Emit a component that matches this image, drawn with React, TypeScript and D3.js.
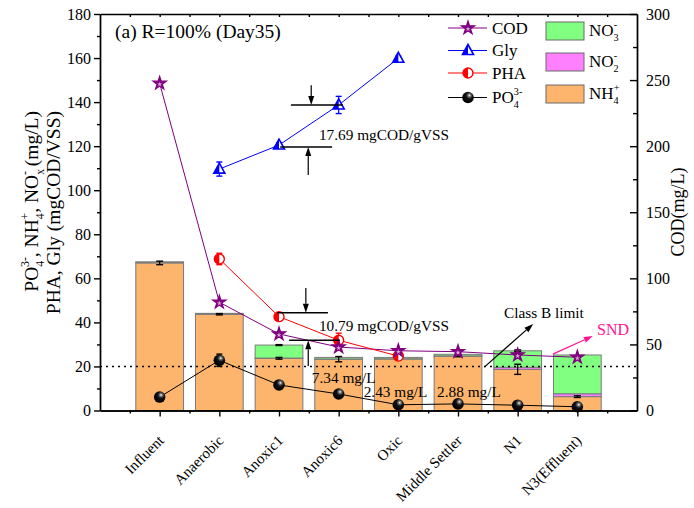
import React, {useEffect, useRef} from "react";
import * as d3 from "d3";

// stages along the plant
const categories = ["Influent", "Anaerobic", "Anoxic1", "Anoxic6", "Oxic", "Middle Settler", "N1", "N3(Effluent)"];

// stacked nitrogen bars (mg/L)
const nh4 = [67.0, 43.7, 23.7, 23.3, 23.4, 24.7, 18.7, 6.3];
const no2 = [0.2, 0.1, 0.1, 0.1, 0.1, 0.1, 0.9, 1.3];
const no3 = [0.3, 0.3, 5.9, 0.7, 0.6, 0.7, 7.5, 17.6];
const nh4Err = [0.8, 0.3, 0.4, 1.2, 0.3, 0.3, 2.3, 0.4];
const totalErr = [0, 0, 0.2, 0, 0, 0, 0.4, 0];

// PO4 (mg/L) and COD (mg/L, right axis)
const po4 = [6.1, 22.8, 11.6, 7.5, 2.6, 3.0, 2.4, 1.7];
const po4Err = [0.3, 2.8, 0.4, 0.4, 0.3, 0.3, 0.3, 0.3];
const cod = [247.5, 81.9, 57.9, 48.0, 45.2, 44.5, 42.0, 40.3];

// Gly and PHA (mgCOD/VSS) only for the reactor stages
const glyStages = [1, 2, 3, 4];
const gly = [109.6, 120.5, 138.7, 159.9];
const glyErr = [3.2, 1.0, 3.9, 1.0];
const pha = [68.8, 42.6, 31.9, 24.7];
const phaErr = [2.6, 0.8, 3.2, 1.0];

const leftTicks = d3.range(0, 181, 20);
const leftMinor = d3.range(10, 180, 20);
const rightTicks = d3.range(0, 301, 50);
const rightMinor = d3.range(25, 300, 50);
const classBLimit = 20;

const FONT = "'Liberation Serif', 'Times New Roman', serif";

type Part = {t: string, k?: "sub" | "sup", back?: number};

function rich(sel: any, parts: Part[], fs: number) {
  let off = 0;
  parts.forEach((p) => {
    let target = p.k === "sub" ? fs * 0.3 : p.k === "sup" ? -fs * 0.45 : 0;
    let ts = sel.append("tspan").attr("dy", target - off).text(p.t);
    if (p.k) ts.attr("font-size", fs * 0.6);
    if (p.back) ts.attr("dx", -p.back);
    off = target;
  });
}

function arrow(g: any, x1: number, y1: number, x2: number, y2: number, color: string, len = 9, wid = 3) {
  let ang = Math.atan2(y2 - y1, x2 - x1);
  let bx = x2 - len * Math.cos(ang), by = y2 - len * Math.sin(ang);
  g.append("line")
    .attr("x1", x1).attr("y1", y1).attr("x2", bx).attr("y2", by)
    .attr("stroke", color).attr("stroke-width", 1.2);
  let px = -Math.sin(ang) * wid, py = Math.cos(ang) * wid;
  g.append("path")
    .attr("d", `M${x2},${y2}L${bx + px},${by + py}L${bx - px},${by - py}Z`)
    .attr("fill", color);
}

function Chart() {
  const svgRef = useRef<SVGSVGElement>(null);

  useEffect(() => {
    document.body.style.margin = "0";
    let svg = d3.select(svgRef.current);
    svg.selectAll("*").remove();

    let plot = {left: 100, right: 637, top: 14, bottom: 410.5};
    let x = d3.scaleLinear().domain([0, 9]).range([plot.left, plot.right]);
    let yL = d3.scaleLinear().domain([0, 180]).range([plot.bottom, plot.top]);
    let yR = d3.scaleLinear().domain([0, 300]).range([plot.bottom, plot.top]);
    let bw = x(0.8) - x(0);

    let defs = svg.append("defs");
    let grad = defs.append("radialGradient").attr("id", "ball").attr("cx", "62%").attr("cy", "32%").attr("r", "65%");
    grad.append("stop").attr("offset", "0%").attr("stop-color", "#ffffff");
    grad.append("stop").attr("offset", "18%").attr("stop-color", "#777777");
    grad.append("stop").attr("offset", "45%").attr("stop-color", "#111111");
    grad.append("stop").attr("offset", "100%").attr("stop-color", "#000000");

    // bars
    let bars = svg.append("g");
    categories.forEach((c, i) => {
      let cx = x(i + 1);
      let segs = [
        {v0: 0, v1: nh4[i], fill: "#FDB46C"},
        {v0: nh4[i], v1: nh4[i] + no2[i], fill: "#FF80FF"},
        {v0: nh4[i] + no2[i], v1: nh4[i] + no2[i] + no3[i], fill: "#80FF80"},
      ];
      segs.forEach((s) => {
        bars.append("rect")
          .attr("x", cx - bw / 2).attr("width", bw)
          .attr("y", yL(s.v1)).attr("height", yL(s.v0) - yL(s.v1))
          .attr("fill", s.fill).attr("stroke", "#7a7a7a").attr("stroke-width", 1);
      });
    });

    let errBar = (g: any, cx: number, y0: number, y1: number, color: string, cap = 7) => {
      g.append("line").attr("x1", cx).attr("x2", cx).attr("y1", y0).attr("y2", y1)
        .attr("stroke", color).attr("stroke-width", 1.2);
      [y0, y1].forEach((yy) => g.append("line")
        .attr("x1", cx - cap / 2).attr("x2", cx + cap / 2).attr("y1", yy).attr("y2", yy)
        .attr("stroke", color).attr("stroke-width", 1.4));
    };

    let eg = svg.append("g");
    categories.forEach((c, i) => {
      errBar(eg, x(i + 1), yL(nh4[i] - nh4Err[i]), yL(nh4[i] + nh4Err[i]), "#000");
      if (totalErr[i] > 0) {
        let t = nh4[i] + no2[i] + no3[i];
        errBar(eg, x(i + 1), yL(t - totalErr[i]), yL(t + totalErr[i]), "#000");
      }
    });

    // class B limit
    svg.append("line")
      .attr("x1", plot.left).attr("x2", plot.right)
      .attr("y1", yL(classBLimit)).attr("y2", yL(classBLimit))
      .attr("stroke", "#000").attr("stroke-width", 1.6).attr("stroke-dasharray", "2,4");

    // series lines
    let idx = d3.range(categories.length);
    let lineL = (vals: number[], pos: number[]) =>
      d3.line<number>().x((d, k) => x(pos[k] + 1)).y((d) => yL(d))(vals);

    svg.append("path").attr("d", d3.line<number>().x((d, k) => x(k + 1)).y((d) => yR(d))(cod))
      .attr("fill", "none").attr("stroke", "#800080").attr("stroke-width", 1);
    svg.append("path").attr("d", lineL(gly, glyStages))
      .attr("fill", "none").attr("stroke", "#0000FF").attr("stroke-width", 1);
    svg.append("path").attr("d", lineL(pha, glyStages))
      .attr("fill", "none").attr("stroke", "#FF0000").attr("stroke-width", 1);
    svg.append("path").attr("d", lineL(po4, idx))
      .attr("fill", "none").attr("stroke", "#000").attr("stroke-width", 1);

    // markers
    let star = d3.symbol().type(d3.symbolStar).size(55)();
    let drawStar = (g: any, cx: number, cy: number) => {
      g.append("path").attr("d", star).attr("transform", `translate(${cx},${cy})`)
        .attr("fill", "#800080").attr("stroke", "#800080").attr("stroke-width", 1.2);
      g.append("path").attr("d", d3.symbol().type(d3.symbolStar).size(8)())
        .attr("transform", `translate(${cx},${cy + 1})`).attr("fill", "#d9a8d9");
    };
    let drawTri = (g: any, cx: number, cy: number) => {
      g.append("path").attr("d", "M0,-6L5.5,4L-5.5,4Z").attr("transform", `translate(${cx},${cy})`)
        .attr("fill", "#fff").attr("stroke", "#0000FF").attr("stroke-width", 1.6);
      g.append("path").attr("d", "M0,-6L0,4L-5.5,4Z").attr("transform", `translate(${cx},${cy})`)
        .attr("fill", "#0000FF");
    };
    let drawHalf = (g: any, cx: number, cy: number) => {
      g.append("circle").attr("cx", cx).attr("cy", cy).attr("r", 5)
        .attr("fill", "#fff").attr("stroke", "#FF0000").attr("stroke-width", 1.4);
      g.append("path").attr("d", "M0,-5A5,5 0 0 0 0,5Z").attr("transform", `translate(${cx},${cy})`)
        .attr("fill", "#FF0000");
    };
    let drawBall = (g: any, cx: number, cy: number) => {
      g.append("circle").attr("cx", cx).attr("cy", cy).attr("r", 5.8).attr("fill", "url(#ball)");
    };

    let mg = svg.append("g");
    glyStages.forEach((s, k) => {
      errBar(mg, x(s + 1), yL(gly[k] - glyErr[k]), yL(gly[k] + glyErr[k]), "#0000FF", 6);
      drawTri(mg, x(s + 1), yL(gly[k]));
      errBar(mg, x(s + 1), yL(pha[k] - phaErr[k]), yL(pha[k] + phaErr[k]), "#FF0000", 6);
      drawHalf(mg, x(s + 1), yL(pha[k]));
    });
    idx.forEach((i) => {
      errBar(mg, x(i + 1), yL(po4[i] - po4Err[i]), yL(po4[i] + po4Err[i]), "#000", 6);
      drawBall(mg, x(i + 1), yL(po4[i]));
    });
    idx.forEach((i) => drawStar(mg, x(i + 1), yR(cod[i])));

    // axes
    let styleAxis = (g: any) => {
      g.attr("font-family", FONT);
      g.selectAll("path").attr("stroke", "#000").attr("stroke-width", 1.4);
      g.selectAll("line").attr("stroke", "#000").attr("stroke-width", 1.4);
      g.selectAll("text").attr("font-family", FONT).attr("font-size", 16).attr("fill", "#000");
    };
    svg.append("g").attr("transform", `translate(${plot.left},0)`)
      .call(d3.axisLeft(yL).tickValues(leftTicks).tickSize(6).tickSizeOuter(0).tickPadding(3)).call(styleAxis);
    svg.append("g").attr("transform", `translate(${plot.left},0)`)
      .call(d3.axisLeft(yL).tickValues(leftMinor).tickSize(3).tickSizeOuter(0).tickFormat(() => "")).call(styleAxis);
    svg.append("g").attr("transform", `translate(${plot.right},0)`)
      .call(d3.axisRight(yR).tickValues(rightTicks).tickSize(-7).tickSizeOuter(0).tickPadding(9)).call(styleAxis);
    svg.append("g").attr("transform", `translate(${plot.right},0)`)
      .call(d3.axisRight(yR).tickValues(rightMinor).tickSize(-4).tickSizeOuter(0).tickFormat(() => "")).call(styleAxis);
    svg.append("g").attr("transform", `translate(0,${plot.bottom})`)
      .call(d3.axisBottom(x).tickValues(d3.range(1, 9)).tickSize(6).tickSizeOuter(0).tickFormat(() => "")).call(styleAxis);
    svg.append("g").attr("transform", `translate(0,${plot.bottom})`)
      .call(d3.axisBottom(x).tickValues(d3.range(0.5, 9, 1)).tickSize(3).tickSizeOuter(0).tickFormat(() => "")).call(styleAxis);
    svg.append("g").attr("transform", `translate(0,${plot.top})`)
      .call(d3.axisTop(x).tickValues(d3.range(0.5, 9, 0.5)).tickSize(-3).tickSizeOuter(0).tickFormat(() => "")).call(styleAxis);

    categories.forEach((c, i) => {
      svg.append("text")
        .attr("transform", `translate(${x(i + 1) + 5},${plot.bottom + 31}) rotate(-45)`)
        .attr("text-anchor", "end").attr("font-family", FONT).attr("font-size", 15)
        .text(c);
    });

    // axis titles
    let t1 = svg.append("text").attr("transform", "translate(38,111) rotate(-90)")
      .attr("text-anchor", "end").attr("font-family", FONT).attr("font-size", 19.5);
    rich(t1, [
      {t: "PO"}, {t: "4", k: "sub"}, {t: "3-", k: "sup", back: 6},
      {t: ", NH"}, {t: "4", k: "sub"}, {t: "+", k: "sup", back: 6},
      {t: ", NO"}, {t: "x", k: "sub"}, {t: "-", k: "sup", back: 6}, {t: " (mg/L)"},
    ], 19.5);
    svg.append("text").attr("transform", "translate(60,111) rotate(-90)")
      .attr("text-anchor", "end").attr("font-family", FONT).attr("font-size", 19.5)
      .text("PHA, Gly (mgCOD/VSS)");
    svg.append("text").attr("transform", "translate(684,212) rotate(-90)")
      .attr("text-anchor", "middle").attr("font-family", FONT).attr("font-size", 18)
      .text("COD(mg/L)");

    // panel title
    svg.append("text").attr("x", 115).attr("y", 38).attr("font-family", FONT).attr("font-size", 19.5)
      .text("(a) R=100% (Day35)");

    // annotations
    let an = svg.append("g");
    let hl = (x1: number, x2: number, yy: number) => an.append("line")
      .attr("x1", x(x1)).attr("x2", x(x2)).attr("y1", yL(yy)).attr("y2", yL(yy))
      .attr("stroke", "#000").attr("stroke-width", 1.4);
    let txt = (xx: number, yy: number, s: string, color = "#000", fs = 15.3) => an.append("text")
      .attr("x", x(xx)).attr("y", yL(yy)).attr("font-family", FONT).attr("font-size", fs)
      .attr("fill", color).text(s);

    hl(3.2, 4.07, gly[2]);
    arrow(an, x(3.54), yL(147.7), x(3.54), yL(gly[2]), "#000");
    hl(3.02, 3.89, 119.6);
    arrow(an, x(3.49), yL(106.9), x(3.49), yL(119.6), "#000");
    txt(3.67, 122.8, "17.69 mgCOD/gVSS");

    hl(2.97, 3.82, 44.4);
    arrow(an, x(3.45), yL(55.6), x(3.45), yL(44.4), "#000");
    hl(3.17, 4.02, pha[2]);
    arrow(an, x(3.49), yL(20.2), x(3.49), yL(pha[2]), "#000");
    txt(3.67, 36.1, "10.79 mgCOD/gVSS");

    txt(3.55, 12.5, "7.34 mg/L");
    txt(4.42, 6.1, "2.43 mg/L");
    txt(5.65, 6.1, "2.88 mg/L");
    txt(6.77, 42.0, "Class B limit");
    arrow(an, x(6.44), yL(19.7), x(7.26), yL(39.3), "#000");
    txt(8.33, 34.3, "SND", "#FF1493", 16);
    arrow(an, x(7.59), yL(25.6), x(8.26), yL(33.8), "#FF1493");

    // legend: lines + markers
    let lg = svg.append("g");
    let lineItems = [
      {name: "COD", color: "#800080", draw: drawStar, y: 28},
      {name: "Gly", color: "#0000FF", draw: drawTri, y: 50.5},
      {name: "PHA", color: "#FF0000", draw: drawHalf, y: 73},
      {name: "PO4", color: "#000", draw: drawBall, y: 97.5},
    ];
    lineItems.forEach((it) => {
      lg.append("line").attr("x1", 448).attr("x2", 487).attr("y1", it.y).attr("y2", it.y)
        .attr("stroke", it.color).attr("stroke-width", 1);
      it.draw(lg, 468, it.y);
      let t = lg.append("text").attr("x", 492).attr("y", it.y + 5.5)
        .attr("font-family", FONT).attr("font-size", 17);
      if (it.name === "PO4") rich(t, [{t: "PO"}, {t: "4", k: "sub"}, {t: "3-", k: "sup", back: 5}], 17);
      else t.text(it.name);
    });

    let boxItems = [
      {fill: "#80FF80", sub: "3", sup: "-", base: "NO", y: 22},
      {fill: "#FF80FF", sub: "2", sup: "-", base: "NO", y: 53},
      {fill: "#FDB46C", sub: "4", sup: "+", base: "NH", y: 85},
    ];
    boxItems.forEach((it) => {
      lg.append("rect").attr("x", 546).attr("y", it.y).attr("width", 38).attr("height", 18)
        .attr("fill", it.fill).attr("stroke", "#6a6a6a").attr("stroke-width", 1);
      let t = lg.append("text").attr("x", 589).attr("y", it.y + 14)
        .attr("font-family", FONT).attr("font-size", 17);
      rich(t, [{t: it.base}, {t: it.sub, k: "sub"}, {t: it.sup, k: "sup", back: 5}], 17);
    });
  }, []);

  return <svg ref={svgRef} width={694} height={508} style={{display: "block", background: "#fff"}} />;
}

export default function App() {
  return <Chart />;
}
